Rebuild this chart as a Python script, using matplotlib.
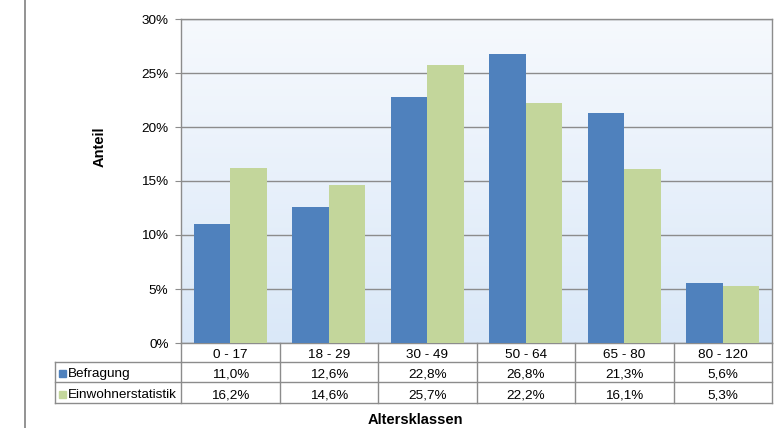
import matplotlib
matplotlib.use("Agg")
import matplotlib.pyplot as plt
import numpy as np
from matplotlib.patches import Rectangle
from matplotlib.lines import Line2D

plt.rcParams['font.family'] = ['Liberation Sans', 'DejaVu Sans']

categories = ["0 - 17", "18 - 29", "30 - 49", "50 - 64", "65 - 80", "80 - 120"]
series_names = ["Befragung", "Einwohnerstatistik"]
befragung = [11.0, 12.6, 22.8, 26.8, 21.3, 5.6]
einwohner = [16.2, 14.6, 25.7, 22.2, 16.1, 5.3]
yticks = [0, 5, 10, 15, 20, 25, 30]
title = "Altersverteilung"
xlabel = "Altersklassen"
ylabel = "Anteil"

colors = ["#4F81BD", "#C3D69B"]
grid_col = "#8C8C8C"
FS = 9.7
FSB = 10.5

W, H = 778, 428
fig = plt.figure(figsize=(W / 100, H / 100), dpi=100)

L, R, T, B = 181, 772, 19, 343
ax = fig.add_axes([L / W, 1 - B / H, (R - L) / W, (B - T) / H])
ax.set_xlim(-0.5, len(categories) - 0.5)

# gradient background (light at top, bluer at bottom)
grad = np.linspace(0, 1, 256).reshape(-1, 1)
top = np.array([0xF6, 0xF9, 0xFD]) / 255
bot = np.array([0xDA, 0xE8, 0xF8]) / 255
img = top[None, None, :] * (1 - grad[:, :, None]) + bot[None, None, :] * grad[:, :, None]
ax.imshow(img, extent=[-0.5, len(categories) - 0.5, 0, 30], origin='upper', aspect='auto', zorder=0)
ax.set_xlim(-0.5, len(categories) - 0.5)
ax.set_ylim(0, 30)

for yv in yticks:
    ax.axhline(yv, color=grid_col, lw=1.0, zorder=1)

x = np.arange(len(categories))
bw = 0.37
ax.bar(x - bw / 2, befragung, bw, color=colors[0], zorder=3, linewidth=0)
ax.bar(x + bw / 2, einwohner, bw, color=colors[1], zorder=3, linewidth=0)

ax.set_yticks(yticks)
ax.set_yticklabels([f"{v}%" for v in yticks], fontsize=FS)
ax.tick_params(axis='y', length=4, color=grid_col, pad=5)
ax.set_xticks([])
for s in ax.spines.values():
    s.set_color(grid_col)
    s.set_linewidth(1.0)

# table
def fy(py):
    return 1 - py / H
def fx(px):
    return px / W

lc = "#8C8C8C"
TL = 55
col_w = (R - L) / len(categories)
fig.add_artist(Line2D([fx(L), fx(R)], [fy(362), fy(362)], color=lc, lw=1.0))
fig.add_artist(Line2D([fx(TL), fx(L)], [fy(362), fy(362)], color=lc, lw=1.0))
fig.add_artist(Line2D([fx(TL), fx(R)], [fy(382), fy(382)], color=lc, lw=1.0))
fig.add_artist(Line2D([fx(TL), fx(R)], [fy(403), fy(403)], color=lc, lw=1.0))
for i in range(len(categories) + 1):
    xp = L + i * col_w
    fig.add_artist(Line2D([fx(xp), fx(xp)], [fy(343), fy(403)], color=lc, lw=1.0))
fig.add_artist(Line2D([fx(TL), fx(TL)], [fy(362), fy(403)], color=lc, lw=1.0))

for i, c in enumerate(categories):
    xc = L + (i + 0.5) * col_w
    fig.text(fx(xc), fy(357.5), c, ha='center', va='baseline', fontsize=FS)
    fig.text(fx(xc), fy(377.5), f"{befragung[i]:.1f}%".replace('.', ','), ha='center', va='baseline', fontsize=FS)
    fig.text(fx(xc), fy(398), f"{einwohner[i]:.1f}%".replace('.', ','), ha='center', va='baseline', fontsize=FS)

for j, (name, yb) in enumerate(zip(series_names, [377.5, 398])):
    fig.add_artist(Rectangle((fx(59), fy(yb - 0.5)), 7 / W, 7 / H, color=colors[j], transform=fig.transFigure))
    fig.text(fx(68), fy(yb), name, ha='left', va='baseline', fontsize=FS)

fig.text(fx(415), fy(424), xlabel, ha='center', va='baseline', fontsize=FSB, fontweight='bold')
fig.text(fx(100), fy(147), ylabel, ha='center', va='center', fontsize=FSB, fontweight='bold', rotation=90)

# title (mostly cut off at top, as in the reference)
fig.text(fx(509), fy(-2.5), title, ha='right', va='baseline', fontsize=12, fontweight='bold')

# left vertical rule
fig.add_artist(Line2D([fx(24.5), fx(24.5)], [0, 1], color="#8A8A8A", lw=1.3))

fig.savefig("out.png", dpi=100)
